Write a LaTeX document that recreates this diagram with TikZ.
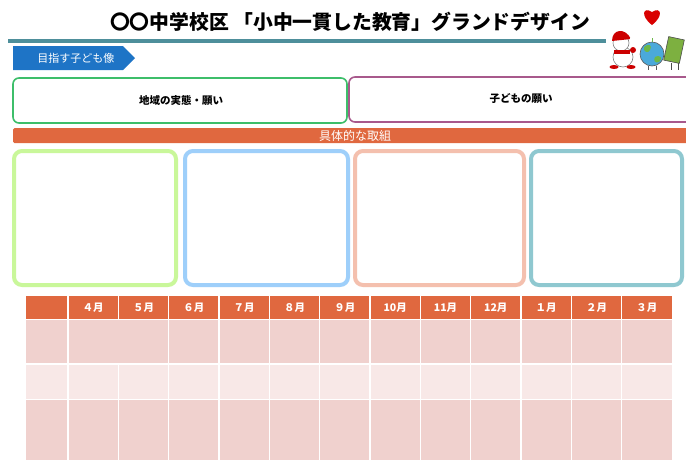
\documentclass[tikz,border=0pt]{standalone}
\usepackage{fontspec}
\setmainfont{Noto Sans CJK JP}
\definecolor{rule}{HTML}{4E8F9B}
\definecolor{tagblue}{HTML}{1E74C6}
\definecolor{wishgreen}{HTML}{3DBE6A}
\definecolor{wishpurple}{HTML}{A8598C}
\definecolor{barorange}{HTML}{E0683F}
\definecolor{boxA}{HTML}{C9F79A}
\definecolor{boxB}{HTML}{9ECFFA}
\definecolor{boxC}{HTML}{F4C0AE}
\definecolor{boxD}{HTML}{8FC8D0}
\definecolor{rowdark}{HTML}{F0D1CE}
\definecolor{rowlight}{HTML}{F8E8E7}
\definecolor{globe}{HTML}{4BA9DA}
\definecolor{land}{HTML}{6DB848}
\definecolor{bookgreen}{HTML}{7DB040}
\begin{document}
\begin{tikzpicture}[x=1pt,y=-1pt,
  wishbox/.style={draw, line width=1.6pt, rounded corners=6pt},
  planbox/.style={draw, line width=4pt, rounded corners=8pt},
  month/.style={text=white, font=\bfseries\fontsize{10.5}{10.5}\selectfont, inner sep=0pt},
  grid/.style={white, line width=1.5pt},
  label/.style={font=\bfseries\fontsize{10.5}{10.5}\selectfont, inner sep=0pt}]
\useasboundingbox (0,0) rectangle (686,459);
\fill[white] (0,0) rectangle (686,459);

% heading
\node[font=\bfseries\fontsize{19.8}{19.8}\selectfont, inner sep=0pt] (title) at (350,22)
  {〇〇中学校区 「小中一貫した教育」グランドデザイン};
\draw[rule, line width=3.5pt] (8,41) -- (606,41);

% section tag
\fill[tagblue] (13,46) -- (123,46) -- (135,58) -- (123,70) -- (13,70) -- cycle;
\node[text=white, font=\fontsize{11}{11}\selectfont, inner sep=0pt] (tag) at (76,58) {目指す子ども像};

% characters in the top right corner
\fill[red!85!black] (652,25) .. controls (640,16) and (643,6) .. (652,12)
  .. controls (661,6) and (664,16) .. (652,25);
% snowman
\draw[gray, line width=0.6pt, fill=white] (623,57) circle (10);
\draw[gray, line width=0.6pt, fill=white] (621,43) circle (8);
\fill[red!80!black] (612,41) .. controls (612,29) and (625,27) .. (631,39) -- cycle;
\fill[white] (632,39) circle (2.2);
\fill[red!80!black] (614,50) -- (630,50) -- (630,53.5) -- (614,53.5) -- cycle;
\fill[red!80!black] (633,50) circle (3);
\fill[red!80!black] (614,67) ellipse (4.5 and 2);
\fill[red!80!black] (631,67) ellipse (4.5 and 2);
% globe
\draw[gray!70!black, line width=0.6pt, fill=globe] (652,54) circle (12);
\fill[land] (644,47) .. controls (648,43) and (653,45) .. (650,50) .. controls (648,54) and (643,52) .. cycle;
\fill[land] (655,57) .. controls (661,54) and (663,59) .. (659,62) .. controls (655,64) and (653,60) .. cycle;
\draw[land, line width=1pt] (652,42) -- (652,38);
\draw[gray!70!black, line width=0.8pt] (648,66) -- (648,70) (656,66) -- (656,70);
% book
\draw[gray!60!black, line width=0.6pt, fill=bookgreen, rotate around={-12:(674,50)}]
  (666,38) rectangle (682,62);
\draw[gray!60!black, line width=0.8pt] (671,63) -- (671,70) (678,63) -- (678,70);

% wishes
\draw[wishgreen, wishbox, fill=white] (13,78) rectangle (347,123);
\node[label] (area) at (181,100) {地域の実態・願い};
\draw[wishpurple, wishbox, fill=white] (349,77) rectangle (694,122);
\node[label] (child) at (521,99) {子どもの願い};

% concrete efforts
\fill[barorange, rounded corners=1.5pt] (13,128) rectangle (697,143);
\node[text=white, font=\fontsize{12}{12}\selectfont, inner sep=0pt] (effort) at (355,135.5) {具体的な取組};
\draw[boxA, planbox] (14,151) rectangle (176,285);
\draw[boxB, planbox] (185,151) rectangle (348,285);
\draw[boxC, planbox] (355,151) rectangle (524,285);
\draw[boxD, planbox] (531,151) rectangle (682,285);

% yearly schedule
\fill[barorange] (26,296) rectangle (672,319.5);
\fill[rowdark] (26,319.5) rectangle (672,364);
\fill[rowlight] (26,364) rectangle (672,399.5);
\fill[rowdark] (26,399.5) rectangle (672,470);
\draw[grid] (26,319.5) -- (672,319.5);
\draw[grid] (26,364) -- (672,364);
\draw[grid] (26,399.5) -- (672,399.5);
\draw[grid] (68,296) -- (68,470);
\draw[grid] (118.3,296) -- (118.3,319.5) (118.3,364) -- (118.3,470);
\foreach \k in {2,...,11} {
  \draw[grid] ({68+50.33*\k},296) -- ({68+50.33*\k},470);
}
\foreach [count=\i from 0] \m/\t in {m4/４月, m5/５月, m6/６月, m7/７月, m8/８月, m9/９月,
    m10/10月, m11/11月, m12/12月, m1/１月, m2/２月, m3/３月} {
  \node[month] (\m) at ({93.2+50.33*\i},308) {\t};
}
\end{tikzpicture}
\end{document}
